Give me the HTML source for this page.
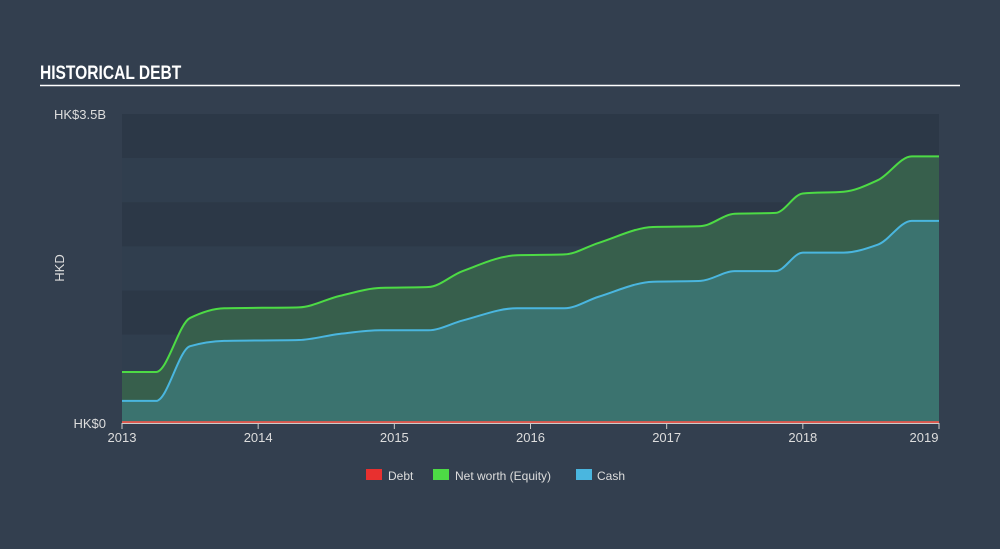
<!DOCTYPE html>
<html><head><meta charset="utf-8"><style>
body{margin:0;width:1000px;height:544px;background:#333f4f;font-family:"Liberation Sans",sans-serif;overflow:hidden}
</style></head><body>
<svg width="1000" height="544">
<text x="40" y="79" fill="#fff" font-size="19" font-weight="bold" transform="scale(0.82,1)" style="transform-origin:40px 79px">HISTORICAL DEBT</text>
<line x1="40" y1="85.5" x2="960" y2="85.5" stroke="#fff" stroke-width="1.5"/>
<g id="bands"></g>
<g id="areas"></g>
<text x="106" y="119" fill="#ddd" font-size="13" text-anchor="end">HK$3.5B</text>
<text x="106" y="428" fill="#ddd" font-size="13" text-anchor="end">HK$0</text>
<text x="64" y="268" fill="#ddd" font-size="13" text-anchor="middle" transform="rotate(-90 64 268)">HKD</text>
<g id="xaxis"></g>
<g>
<rect x="366" y="469" width="16" height="11" fill="#e8302f"/>
<text x="388" y="480" fill="#ddd" font-size="12">Debt</text>
<rect x="433" y="469" width="16" height="11" fill="#4ddb45"/>
<text x="455" y="480" fill="#ddd" font-size="12">Net worth (Equity)</text>
<rect x="576" y="469" width="16" height="11" fill="#4ab6df"/>
<text x="597" y="480" fill="#ddd" font-size="12">Cash</text>
</g>
</svg>
<script>
const years=[2013,2013.25,2013.5,2013.75,2014.3,2014.6,2014.9,2015.25,2015.5,2015.9,2016.25,2016.5,2016.9,2017.25,2017.5,2017.8,2018.0,2018.3,2018.55,2018.8,2019.05];
const equity=[0.578,0.578,1.19,1.30,1.31,1.44,1.53,1.54,1.72,1.90,1.91,2.04,2.22,2.23,2.37,2.38,2.60,2.62,2.75,3.02,3.02];
const cash=[0.25,0.25,0.87,0.93,0.94,1.01,1.05,1.05,1.16,1.30,1.30,1.43,1.60,1.61,1.72,1.72,1.93,1.93,2.02,2.29,2.29];
const debt=[0.01,0.01,0.01,0.01,0.01,0.01,0.01,0.01,0.01,0.01,0.01,0.01,0.01,0.01,0.01,0.01,0.01,0.01,0.01,0.01,0.01];
const xTicks=["2013","2014","2015","2016","2017","2018","2019"];
const NS="http://www.w3.org/2000/svg";
const X0=122,X1=939,Y0=423,Y1=114;
const xs=t=>X0+(Math.min(t,2019)-2013)/6*(X1-X0);
const ys=v=>Y0-v/3.5*(Y0-Y1);
function mk(tag,attrs,parent){const e=document.createElementNS(NS,tag);for(const k in attrs)e.setAttribute(k,attrs[k]);parent.appendChild(e);return e;}
const bands=document.getElementById('bands');
for(let i=0;i<7;i++){
const r=mk('rect',{x:X0,y:ys(3.5-i*0.5),width:X1-X0,height:ys(0)-ys(0.5),fill:i%2?'#303e4e':'#2c3847'},bands);


}
function linePath(vals){
const px=years.map(xs),py=vals.map(ys),n=px.length;
const d=[],m=[];
for(let i=0;i<n-1;i++)d.push((py[i+1]-py[i])/((px[i+1]-px[i])||1));
for(let i=0;i<n;i++){
if(i==0)m.push(d[0]);else if(i==n-1)m.push(d[n-2]);
else m.push(d[i-1]*d[i]<=0?0:3*(d[i-1]+d[i])/(2*(2+d[i]/d[i-1])+ (2+d[i-1]/d[i])) );
}
for(let i=1;i<n-1;i++){if(d[i-1]*d[i]>0){const h0=px[i]-px[i-1],h1=px[i+1]-px[i];m[i]=(3*(h0+h1))/((2*h1+h0)/d[i-1]+(h1+2*h0)/d[i]);}}
let s='M'+px[0]+','+py[0];
for(let i=1;i<n;i++){const h=(px[i]-px[i-1])/3;
s+=' C'+(px[i-1]+h)+','+(py[i-1]+m[i-1]*h)+' '+(px[i]-h)+','+(py[i]-m[i]*h)+' '+px[i]+','+py[i];}
return s;}
const areas=document.getElementById('areas');
function series(vals,fill,stroke,name){
const a=mk('path',{d:linePath(vals)+' L'+X1+','+Y0+' L'+X0+','+Y0+'Z',fill:fill},areas);


const l=mk('path',{d:linePath(vals),fill:'none',stroke:stroke,'stroke-width':2},areas);


}
series(equity,'#375f4c','#4ddb45','equity');
series(cash,'#3b736f','#4ab6df','cash');
series(debt,'none','#e0594f','debt');
const xa=document.getElementById('xaxis');
const ax=mk('line',{x1:X0,y1:Y0+0.5,x2:X1,y2:Y0+0.5,stroke:'#ccc','stroke-width':1},xa);


xTicks.forEach((t,i)=>{const x=xs(+t);
const tk=mk('line',{x1:x,y1:Y0,x2:x,y2:Y0+6,stroke:'#ccc'},xa);


const tx=mk('text',{x:i==6?x-15:x,y:Y0+19,fill:'#ddd','font-size':13,'text-anchor':'middle'},xa);
tx.textContent=t;


});
</script>
</body></html>
